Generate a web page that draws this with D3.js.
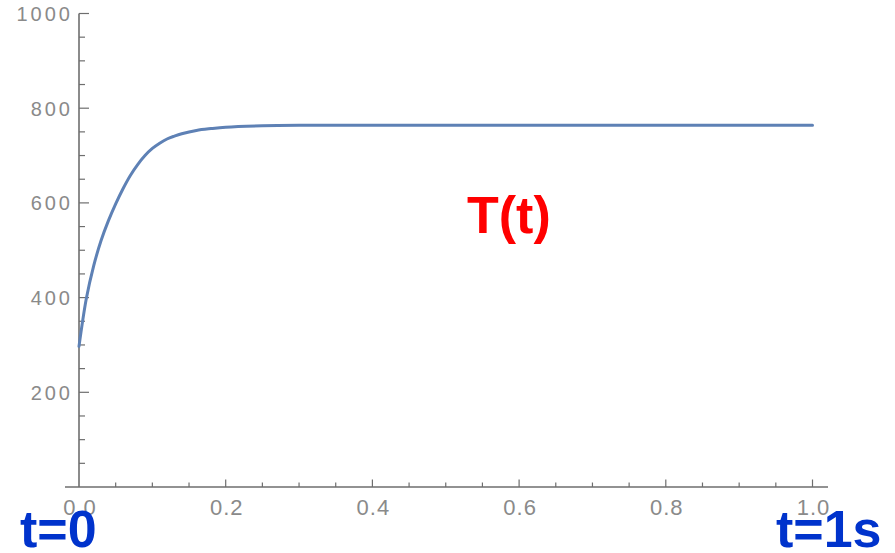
<!DOCTYPE html>
<html><head><meta charset="utf-8">
<script src="https://cdn.jsdelivr.net/npm/d3@7"></script>
<style>body{margin:0;background:#fff}svg{display:block}</style>
</head><body>
<svg id="c" width="895" height="553"></svg>
<script>
const tValues = [0, 0.01, 0.02, 0.03, 0.04, 0.05, 0.06, 0.07, 0.08, 0.09, 0.10, 0.11, 0.12, 0.13, 0.14, 0.16, 0.18, 0.20, 0.25, 0.30, 0.50, 0.70, 1.00];
const TValues = [297, 398, 467, 520, 562, 598, 630, 658, 681, 700, 715, 726, 735, 741, 746, 753, 757, 760, 763, 764, 764, 764, 764];
const xMajorTicks = [0, 0.2, 0.4, 0.6, 0.8, 1.0];
const xTickLabels = ["0.0", "0.2", "0.4", "0.6", "0.8", "1.0"];
const yMajorTicks = [200, 400, 600, 800, 1000];
const yTickLabels = ["200", "400", "600", "800", "1000"];
const curveLabel = "T(t)";
const startLabel = "t=0";
const endLabel = "t=1s";

const svg = d3.select("#c");
const x = d3.scaleLinear().domain([0, 1]).range([79, 812.5]);
const y = d3.scaleLinear().domain([0, 1000]).range([487, 13.5]);
const axisColor = "#6e6e6e";
const labelColor = "#8a8a8a";
const font = "Liberation Sans, Arial, sans-serif";

// x axis line
svg.append("line").attr("x1", 65).attr("x2", 828).attr("y1", y(0)).attr("y2", y(0))
  .attr("stroke", axisColor).attr("stroke-width", 1.6);
// y axis line
svg.append("line").attr("x1", x(0)).attr("x2", x(0)).attr("y1", y(1000)).attr("y2", y(0))
  .attr("stroke", axisColor).attr("stroke-width", 1.6);

// x ticks
const xMinor = d3.range(0, 1.0001, 0.05).filter(v => !xMajorTicks.some(m => Math.abs(m - v) < 1e-6));
svg.append("g").selectAll("line").data(xMinor).join("line")
  .attr("x1", d => x(d)).attr("x2", d => x(d)).attr("y1", y(0)).attr("y2", y(0) - 4.5)
  .attr("stroke", axisColor).attr("stroke-width", 1.2);
svg.append("g").selectAll("line").data(xMajorTicks.slice(1)).join("line")
  .attr("x1", d => x(d)).attr("x2", d => x(d)).attr("y1", y(0)).attr("y2", y(0) - 7.5)
  .attr("stroke", axisColor).attr("stroke-width", 1.2);
svg.append("g").selectAll("text").data(xMajorTicks).join("text")
  .attr("x", d => x(d) + 1).attr("y", 515)
  .attr("text-anchor", "middle")
  .attr("font-family", font).attr("font-size", 22)
  .attr("letter-spacing", 1)
  .attr("fill", labelColor)
  .text((d, i) => xTickLabels[i]);

// y ticks
const yMinor = d3.range(50, 1000, 50).filter(v => v % 200 !== 0);
svg.append("g").selectAll("line").data(yMinor).join("line")
  .attr("x1", x(0)).attr("x2", x(0) + 6).attr("y1", d => y(d)).attr("y2", d => y(d))
  .attr("stroke", axisColor).attr("stroke-width", 1.2);
svg.append("g").selectAll("line").data(yMajorTicks).join("line")
  .attr("x1", x(0)).attr("x2", x(0) + 10).attr("y1", d => y(d)).attr("y2", d => y(d))
  .attr("stroke", axisColor).attr("stroke-width", 1.2);
svg.append("g").selectAll("text").data(yMajorTicks).join("text")
  .attr("x", 73).attr("y", d => y(d) + 7.5)
  .attr("text-anchor", "end")
  .attr("font-family", font).attr("font-size", 20)
  .attr("letter-spacing", 3)
  .attr("fill", labelColor)
  .text((d, i) => yTickLabels[i]);

// curve
const pts = tValues.map((t, i) => [t, TValues[i]]);
svg.append("path").datum(pts)
  .attr("d", d3.line().x(d => x(d[0])).y(d => y(d[1])).curve(d3.curveCatmullRom))
  .attr("fill", "none").attr("stroke", "#5e81b5").attr("stroke-width", 3)
  .attr("stroke-linecap", "round");

// annotations
svg.append("text").attr("x", 467).attr("y", 233)
  .attr("font-family", font).attr("font-weight", "bold")
  .attr("font-size", 52).attr("fill", "#ff0000").text(curveLabel);
svg.append("text").attr("x", 20).attr("y", 547)
  .attr("font-family", font).attr("font-weight", "bold")
  .attr("font-size", 52).attr("fill", "#0033cc").text(startLabel);
svg.append("text").attr("x", 776).attr("y", 547)
  .attr("font-family", font).attr("font-weight", "bold")
  .attr("font-size", 52).attr("fill", "#0033cc").text(endLabel);
</script>
</body></html>
